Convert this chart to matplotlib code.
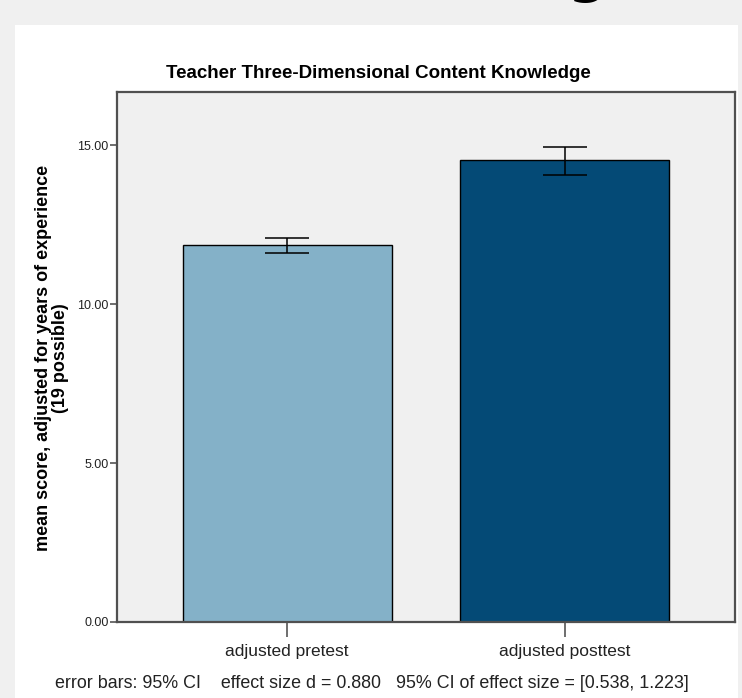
import matplotlib
matplotlib.use("Agg")
import matplotlib.pyplot as plt
from matplotlib.patches import Rectangle
import numpy as np

# Data
categories = ["adjusted pretest", "adjusted posttest"]
means = [11.86, 14.52]
ci_low = [11.61, 14.06]
ci_high = [12.09, 14.95]
bar_colors = ["#84b1c8", "#044a76"]
yticks = [0, 5, 10, 15]
ytick_labels = ["0.00", "5.00", "10.00", "15.00"]

W, H = 742, 698
fig = plt.figure(figsize=(W / 100, H / 100), dpi=100, facecolor="#f0f0f0")

# White chart panel
fig.patches.append(Rectangle((15 / W, 0), (738 - 15) / W, 1 - 25 / H,
                             transform=fig.transFigure, facecolor="white",
                             edgecolor="none", zorder=-5))

# Partial heading glyph above the panel
fig.text(567 / W, 1 + 9 / H, "g", fontsize=40, fontweight="bold",
         color="black", ha="left", va="baseline", family="DejaVu Sans")

font = ["Liberation Sans Narrow", "Liberation Sans", "DejaVu Sans"]

ax = fig.add_axes([117 / W, 1 - 622 / H, (735 - 117) / W, (622 - 92) / H])
ax.set_facecolor("#f0f0f0")

x = np.arange(len(categories))
ax.bar(x, means, width=0.752, color=bar_colors, edgecolor="black",
       linewidth=1.0, zorder=2)
yerr = np.array([[m - lo for m, lo in zip(means, ci_low)],
                 [hi - m for m, hi in zip(means, ci_high)]])
ax.errorbar(x, means, yerr=yerr, fmt="none", ecolor="black", elinewidth=1.3,
            capsize=15.5, capthick=1.3, alpha=0.85, zorder=3)

ax.set_xlim(-0.613, 1.613)
ax.set_ylim(0, 16.67)
ax.set_yticks(yticks)
ax.set_yticklabels(ytick_labels, family=font, fontsize=9, color="#222222")
ax.set_xticks(x)
ax.set_xticklabels(categories, family=font, fontsize=12.5, color="#222222")
ax.tick_params(axis="y", length=5, width=1.2, color="#555555", pad=1)
ax.tick_params(axis="x", length=11, width=1.2, color="#555555", pad=5)

for s in ax.spines.values():
    s.set_color("#505050")
    s.set_linewidth(1.6)

fig.text(378 / W, 1 - 74 / H, "Teacher Three-Dimensional Content Knowledge",
         family=font, fontsize=13.5, fontweight="bold", ha="center",
         va="center", color="black")

fig.text(52 / W, 1 - 358 / H,
         "mean score, adjusted for years of experience\n(19 possible)",
         family=["Liberation Sans", "DejaVu Sans"], fontsize=13,
         fontweight="bold", rotation=90, ha="center", va="center",
         multialignment="center", linespacing=1.0)

fig.text(55 / W, 1 - 684 / H,
         "error bars: 95% CI    effect size d = 0.880   "
         "95% CI of effect size = [0.538, 1.223]",
         family=font, fontsize=12.9, ha="left", va="center", color="#222222")

fig.savefig("out.png", dpi=100, facecolor=fig.get_facecolor())
